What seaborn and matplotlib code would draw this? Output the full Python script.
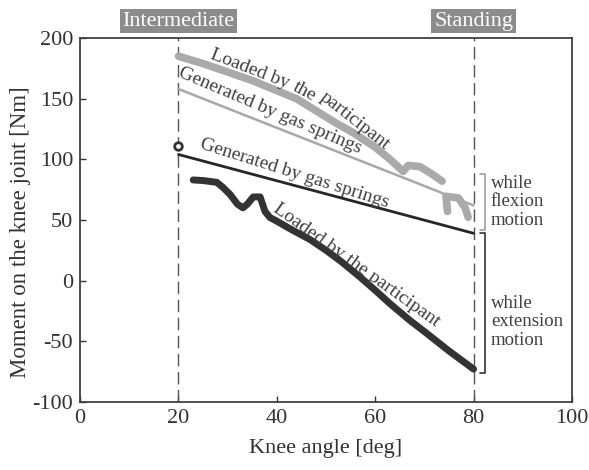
import matplotlib
matplotlib.use("Agg")
import matplotlib.pyplot as plt
import seaborn as sns
import pandas as pd
import numpy as np

# ---- data ----
flex_loaded_x1 = [20, 25, 30, 35, 38.6, 44, 48.8, 52, 55.5, 60, 63, 65.7, 66.7, 69.1, 71.5, 73.6]
flex_loaded_y1 = [185, 179, 172, 165, 159, 150, 138, 130, 122, 110, 100, 90, 95, 94, 88, 82]
flex_loaded_x2 = [74.7, 74.4, 76.9, 78.3, 78.9, 78.9]
flex_loaded_y2 = [57, 69.5, 68.2, 60, 58.5, 46]
flex_blob_x = [79.9, 79.9]
flex_blob_y = [50, 55]

flex_spring_x = [20, 80]
flex_spring_y = [158, 62]

ext_spring_x = [20, 80]
ext_spring_y = [104, 39]

ext_loaded_x = [23, 25, 27.8, 29, 30.5, 32, 33.1, 34, 35.2, 36.6, 37.6, 38.6, 40, 43, 46.7,
                50, 53, 56.9, 60, 63, 67.1, 70, 75, 80]
ext_loaded_y = [83, 82.5, 81, 77, 71, 63, 60, 63, 69, 69, 57, 52, 49, 42, 34,
                25, 16, 3, -8, -19, -33, -42, -58, -73]
ext_start_x = [20]
ext_start_y = [111]

xticks = [0, 20, 40, 60, 80, 100]
yticks = [-100, -50, 0, 50, 100, 150, 200]
phase_labels = ["Intermediate", "Standing"]
phase_x = [20, 80]

sns.set_style("ticks")
plt.rcParams['font.family'] = ['Liberation Serif', 'DejaVu Serif']
plt.rcParams['xtick.direction'] = 'in'
plt.rcParams['ytick.direction'] = 'in'

fig = plt.figure(figsize=(5.89, 4.70), dpi=100)
ax = fig.add_axes([0.136, 0.145, 0.835, 0.774])

dark = "#333333"
lgray = "#aaaaaa"
txt = "#404040"

for xv in phase_x:
    ax.axvline(xv, color="#555555", lw=1.0, ls=(0, (9, 4)), zorder=1)

df = pd.DataFrame({"x": flex_spring_x, "y": flex_spring_y})
sns.lineplot(data=df, x="x", y="y", ax=ax, color="#a8a8a8", lw=1.8, zorder=2)
df = pd.DataFrame({"x": ext_spring_x, "y": ext_spring_y})
sns.lineplot(data=df, x="x", y="y", ax=ax, color="#262626", lw=2.0, zorder=2)

for xs, ys in [(flex_loaded_x1, flex_loaded_y1), (flex_loaded_x2, flex_loaded_y2), (flex_blob_x, flex_blob_y)]:
    df = pd.DataFrame({"x": xs, "y": ys})
    sns.lineplot(data=df, x="x", y="y", ax=ax, color=lgray, lw=5.5, sort=False,
                 solid_capstyle="round", solid_joinstyle="round", zorder=3)

df = pd.DataFrame({"x": ext_loaded_x, "y": ext_loaded_y})
sns.lineplot(data=df, x="x", y="y", ax=ax, color=dark, lw=5.0, sort=False,
             solid_capstyle="round", solid_joinstyle="round", zorder=3)
df = pd.DataFrame({"x": ext_start_x, "y": ext_start_y})
sns.scatterplot(data=df, x="x", y="y", ax=ax, s=30, facecolor="white",
                edgecolor=dark, linewidth=2, zorder=4)

ax.set_xlim(0, 100)
ax.set_ylim(-100, 200)
ax.set_xticks(xticks)
ax.set_yticks(yticks)
ax.set_xticklabels([str(t) for t in xticks])
ax.set_yticklabels([str(t) for t in yticks])
ax.tick_params(labelsize=16, colors="#333333", length=4, width=1, pad=5)
ax.set_xlabel("Knee angle [deg]", fontsize=16, color="#333333", labelpad=8)
ax.set_ylabel("Moment on the knee joint [Nm]", fontsize=16.5, color="#333333")
ax.yaxis.set_label_coords(-0.1, 0.467)
for s in ax.spines.values():
    s.set_visible(True)
    s.set_color("#404040")
    s.set_linewidth(1.3)

# curve labels
fs = 14
ax.text(34.5, 174.8, "Loaded by", rotation=-21, ha="center", va="center", fontsize=fs,
        color=txt, rotation_mode="anchor")
ax.text(45.7, 156.2, "the", rotation=-28, ha="center", va="center", fontsize=fs,
        color=txt, rotation_mode="anchor")
ax.text(55.9, 132, "participant", rotation=-38, ha="center", va="center", fontsize=fs,
        color=txt, rotation_mode="anchor")
ax.text(38.6, 140, "Generated by gas springs", rotation=-23, ha="center", va="center",
        fontsize=fs, color=txt, rotation_mode="anchor")
ax.text(43.7, 88, "Generated by gas springs", rotation=-17.5, ha="center", va="center",
        fontsize=fs, color=txt, rotation_mode="anchor")
ax.text(56.1, 13, "Loaded by the participant", rotation=-35.5, ha="center", va="center",
        fontsize=fs, color=txt, rotation_mode="anchor")

# phase labels
for lab, xv in zip(phase_labels, phase_x):
    ax.text(xv, 214, lab, ha="center", va="center", fontsize=16, color="white",
            clip_on=False, bbox=dict(boxstyle="square,pad=0.12", fc="#8c8c8c", ec="none"))

# brackets
bx0, bx1 = 81.3, 82.3
ax.plot([bx0, bx1, bx1, bx0], [88, 88, 42, 42], color="#a0a0a0", lw=1.2, clip_on=False)
ax.plot([bx0, bx1, bx1, bx0], [39.6, 39.6, -75.8, -75.8], color="#333333", lw=1.2, clip_on=False)
ax.text(83.5, 65, "while\nflexion\nmotion", ha="left", va="center", fontsize=13.5,
        color=txt, linespacing=1.1)
ax.text(83.5, -34, "while\nextension\nmotion", ha="left", va="center", fontsize=13.5,
        color=txt, linespacing=1.1)

fig.savefig("out.png", dpi=100)
